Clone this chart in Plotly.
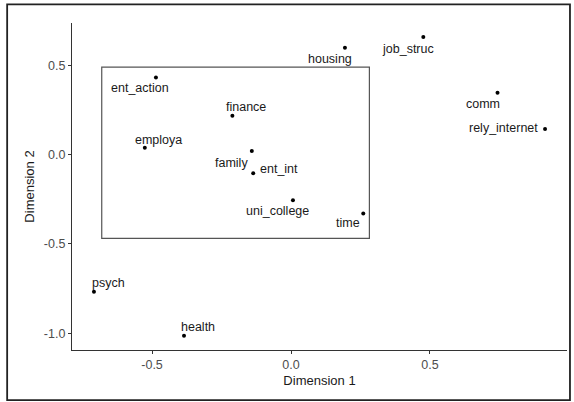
import plotly.graph_objects as go

labels = ["ent_action", "finance", "employa", "family", "ent_int", "housing",
          "job_struc", "comm", "rely_internet", "uni_college", "time", "psych", "health"]
dim1 = [-0.486, -0.211, -0.526, -0.141, -0.136, 0.194, 0.476, 0.743, 0.914, 0.007, 0.260, -0.709, -0.385]
dim2 = [0.432, 0.217, 0.038, 0.020, -0.105, 0.598, 0.658, 0.346, 0.143, -0.255, -0.329, -0.768, -1.014]

# highlighted region (data units)
box_x = [-0.681, 0.282]
box_y = [-0.469, 0.490]

x_ticks = [-0.5, 0.0, 0.5]
y_ticks = [-1.0, -0.5, 0.0, 0.5]

# label offsets in pixels (dx, dy with dy positive = up)
offsets = {
    "ent_action": (-16, -11), "finance": (14, 9), "employa": (14, 8),
    "family": (-20, -12), "ent_int": (26, 4), "housing": (-15, -11),
    "job_struc": (-15, -12), "comm": (-15, -11), "rely_internet": (-42, 1),
    "uni_college": (-15, -11), "time": (-15, -10), "psych": (15, 9), "health": (14, 9),
}

FONT = "Liberation Sans, Arial"

fig = go.Figure()
fig.add_trace(go.Scatter(x=dim1, y=dim2, mode="markers",
                         marker=dict(color="black", size=4), hoverinfo="text", text=labels))

for lab, xv, yv in zip(labels, dim1, dim2):
    dx, dy = offsets[lab]
    fig.add_annotation(x=xv, y=yv, text=lab, showarrow=False, xshift=dx, yshift=dy,
                       font=dict(family=FONT, size=12.5, color="#1a1a1a"))

fig.add_shape(type="rect", xref="x", yref="y", x0=box_x[0], x1=box_x[1], y0=box_y[0], y1=box_y[1],
              line=dict(color="#555555", width=1.2))

# outer border
fig.add_shape(type="rect", xref="paper", yref="paper", x0=-0.131, x1=1.006, y0=-0.153, y1=1.057,
              line=dict(color="#222222", width=1.8), layer="above")

axis_common = dict(showgrid=False, zeroline=False, showline=True, linecolor="#333333", linewidth=1.2,
                   ticks="outside", ticklen=3, tickcolor="#333333", automargin=False,
                   tickfont=dict(family=FONT, size=12.5, color="#4d4d4d"))

fig.update_layout(
    width=574, height=402,
    margin=dict(l=72, r=7, t=23, b=52),
    plot_bgcolor="white", paper_bgcolor="white",
    showlegend=False,
    xaxis=dict(range=[-0.788, 0.993], tickvals=x_ticks, ticktext=["-0.5", "0.0", "0.5"],
               title=dict(text="Dimension 1", standoff=4,
                          font=dict(family=FONT, size=13, color="#1a1a1a")),
               **axis_common),
    yaxis=dict(range=[-1.094, 0.737], tickvals=y_ticks, ticktext=["-1.0", "-0.5", "0.0", "0.5"],
               title=dict(text="Dimension 2", standoff=6,
                          font=dict(family=FONT, size=13, color="#1a1a1a")),
               **axis_common),
)

fig.write_html("out.html", config={"displayModeBar": False},
               post_script="document.body.style.margin='0';document.body.style.overflow='hidden';")
